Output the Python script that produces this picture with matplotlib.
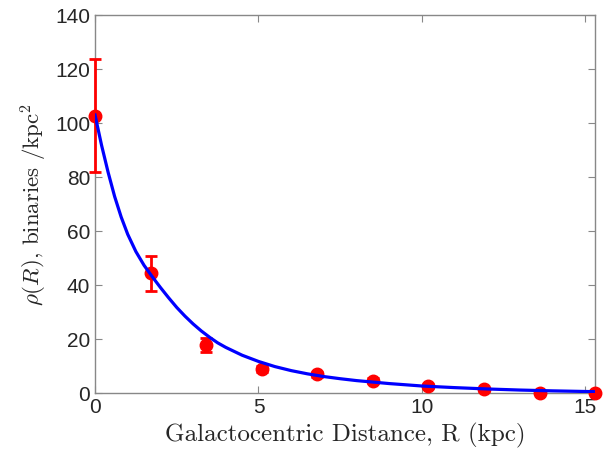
import numpy as np
import matplotlib
matplotlib.use('Agg')
import matplotlib.pyplot as plt

plt.rcParams['mathtext.fontset'] = 'cm'
plt.rcParams['font.family'] = ['Liberation Sans', 'DejaVu Sans']

# 观测点（带误差）
R_obs = [0.0, 1.7, 3.4, 5.1, 6.8, 8.5, 10.2, 11.9, 13.6, 15.3]
rho_obs = [102.8, 44.3, 17.7, 8.9, 6.9, 4.6, 2.6, 1.4, 0.0, 0.0]
rho_err = [20.8, 6.4, 2.5, 1.2, 1.0, 0.8, 0.6, 0.5, 0.4, 0.4]

# 拟合曲线
R_fit = [0.0, 0.2, 0.4, 0.6, 0.8, 1.0, 1.25, 1.5, 1.75, 2.0, 2.25, 2.5, 2.75,
         3.0, 3.25, 3.5, 3.75, 4.0, 4.5, 5.0, 5.5, 6.0, 6.5, 7.0, 7.5, 8.0,
         9.0, 10.0, 11.0, 12.0, 13.0, 14.0, 15.3]
rho_fit = [103.0, 91.8, 81.8, 72.8, 65.2, 58.8, 52.4, 47.3, 43.1, 39.1, 35.3,
           31.7, 28.5, 25.6, 23.0, 20.7, 18.6, 16.9, 14.0, 11.7, 9.8, 8.3, 7.1,
           6.1, 5.3, 4.6, 3.5, 2.6, 2.0, 1.5, 1.1, 0.8, 0.5]

fig = plt.figure(figsize=(6.13, 4.57), dpi=100)
ax = fig.add_axes([0.155, 0.140, 0.816, 0.827])

ax.errorbar(R_obs, rho_obs, yerr=rho_err, fmt='o', color='red', ecolor='red',
            markersize=9, elinewidth=2, capsize=4, capthick=2, clip_on=False, zorder=3)
ax.plot(R_fit, rho_fit, color='blue', linewidth=2.3, zorder=4)

ax.set_xlim(0, 15.3)
ax.set_ylim(0, 140)
ax.set_xticks([0, 5, 10, 15])
ax.set_yticks(np.arange(0, 141, 20))

for s in ax.spines.values():
    s.set_color('#888888')
    s.set_linewidth(1.0)
ax.tick_params(direction='in', length=5, width=0.8, color='#888888',
               labelcolor='#262626', labelsize=15, top=True, right=True)

ax.set_xlabel('Galactocentric Distance, R (kpc)', fontsize=18, color='#262626',
              fontfamily='cmr10')
ax.set_ylabel(r'$\rho(R)$, binaries /kpc$^2$', fontsize=16.5, color='#262626',
              fontfamily='cmr10')

plt.savefig('out.png', dpi=100)
